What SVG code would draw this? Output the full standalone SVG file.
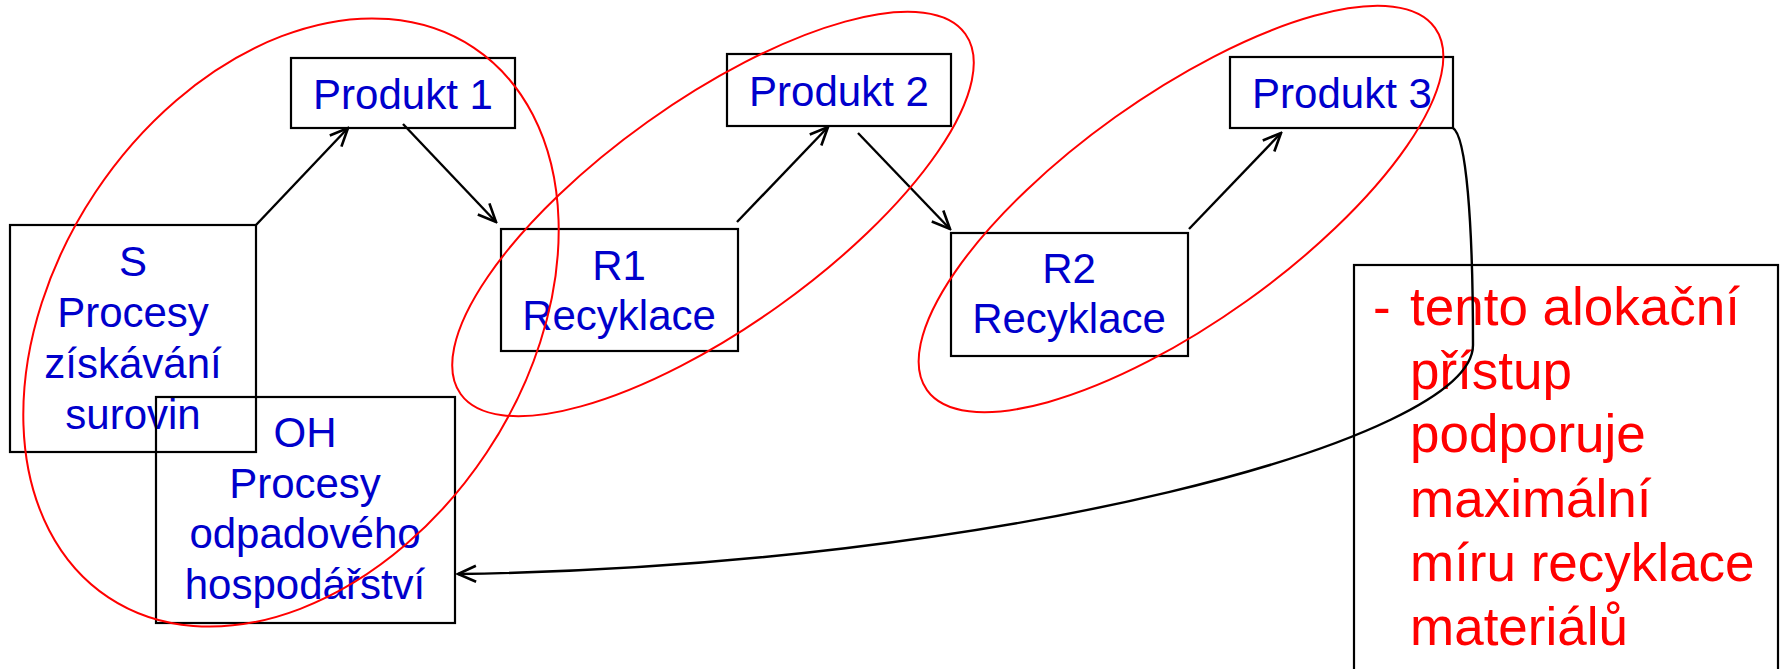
<svg xmlns="http://www.w3.org/2000/svg" width="1781" height="669" viewBox="0 0 1781 669">
  <style>
    .box { fill: none; stroke: #000; stroke-width: 2.2; }
    .lbl { font-family: "Liberation Sans", Arial, sans-serif; font-size: 42px; fill: #0000CC; text-anchor: middle; }
    .note { font-family: "Liberation Sans", Arial, sans-serif; font-size: 53px; fill: #FF0000; }
    .edge { fill: none; stroke: #000; stroke-width: 2.4; marker-end: url(#arrow); }
    .group { fill: none; stroke: #FF0000; stroke-width: 2; }
  </style>
  <defs>
    <marker id="arrow" viewBox="-20 -10 22 20" refX="0" refY="0" markerWidth="22" markerHeight="20" markerUnits="userSpaceOnUse" orient="auto">
      <path d="M -18,-8 L 0,0 L -18,8" fill="none" stroke="#000" stroke-width="2.6" stroke-linejoin="miter"/>
    </marker>
  </defs>

  <rect width="1781" height="669" fill="#fff"/>

  <!-- process nodes -->
  <g id="node-s">
    <rect class="box" x="10" y="225" width="246" height="227"/>
    <text class="lbl" x="133" y="276">S</text>
    <text class="lbl" x="133" y="327">Procesy</text>
    <text class="lbl" x="133" y="378">získávání</text>
    <text class="lbl" x="133" y="429">surovin</text>
  </g>
  <g id="node-oh">
    <rect class="box" x="156" y="397" width="299" height="226"/>
    <text class="lbl" x="305" y="447">OH</text>
    <text class="lbl" x="305" y="498">Procesy</text>
    <text class="lbl" x="305" y="548">odpadového</text>
    <text class="lbl" x="305" y="599">hospodářství</text>
  </g>
  <g id="node-produkt1">
    <rect class="box" x="291" y="58" width="224" height="70"/>
    <text class="lbl" x="403" y="109">Produkt 1</text>
  </g>
  <g id="node-r1">
    <rect class="box" x="501" y="229" width="237" height="122"/>
    <text class="lbl" x="619" y="280">R1</text>
    <text class="lbl" x="619" y="330">Recyklace</text>
  </g>
  <g id="node-produkt2">
    <rect class="box" x="727" y="54" width="224" height="72"/>
    <text class="lbl" x="839" y="106">Produkt 2</text>
  </g>
  <g id="node-r2">
    <rect class="box" x="951" y="233" width="237" height="123"/>
    <text class="lbl" x="1069" y="283">R2</text>
    <text class="lbl" x="1069" y="333">Recyklace</text>
  </g>
  <g id="node-produkt3">
    <rect class="box" x="1230" y="57" width="223" height="71"/>
    <text class="lbl" x="1342" y="108">Produkt 3</text>
  </g>
  <g id="node-note">
    <rect class="box" x="1354" y="265" width="424" height="440"/>
    <text class="note" x="1373" y="325">-</text>
    <text class="note" x="1410" y="325">tento alokační</text>
    <text class="note" x="1410" y="389">přístup</text>
    <text class="note" x="1410" y="452">podporuje</text>
    <text class="note" x="1410" y="517">maximální</text>
    <text class="note" x="1410" y="581">míru recyklace</text>
    <text class="note" x="1410" y="645">materiálů</text>
  </g>

  <!-- connectors -->
  <g id="connectors">
    <path class="edge" d="M 256,225 L 348,128"/>
    <path class="edge" d="M 403,124 L 496,222"/>
    <path class="edge" d="M 737,222 L 828,127"/>
    <path class="edge" d="M 858,133 L 950,229"/>
    <path class="edge" d="M 1189,229 L 1281,133"/>
    <path class="edge" d="M 1453,128 C 1466,136 1473,220 1473,345 C 1473,440 1000,566 458,574"/>
  </g>

  <!-- allocation groupings -->
  <g id="groupings">
    <ellipse class="group" cx="291" cy="322.5" rx="330" ry="235" transform="rotate(-56.4 291 322.5)"/>
    <ellipse class="group" cx="713" cy="214" rx="310" ry="113" transform="rotate(-35.5 713 214)"/>
    <ellipse class="group" cx="1181" cy="209" rx="312" ry="113" transform="rotate(-35.5 1181 209)"/>
  </g>
</svg>
